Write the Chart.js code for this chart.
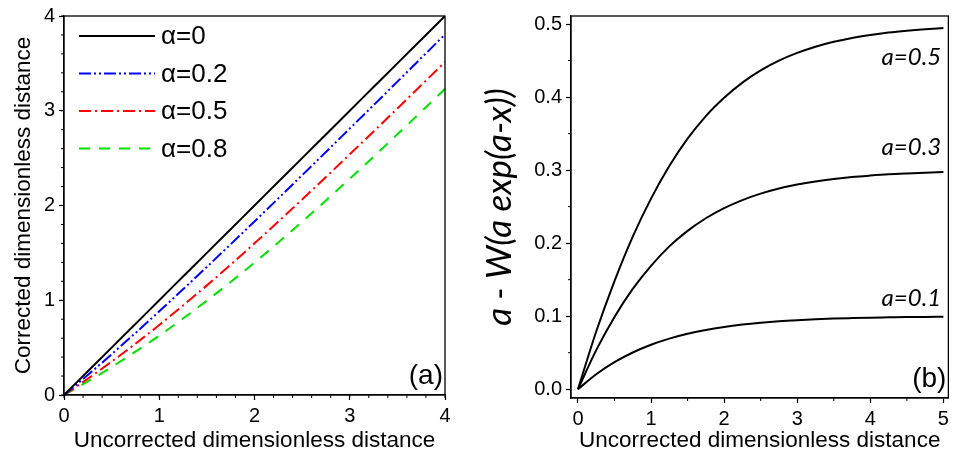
<!DOCTYPE html>
<html>
<head>
<meta charset="utf-8">
<script src="https://cdn.jsdelivr.net/npm/chart.js@4.4.1/dist/chart.umd.min.js"></script>
<style>
body { margin: 0; background: #fff; }
#ca { position: absolute; left: 0; top: 0; }
#cb { position: absolute; left: 475px; top: 0; }
</style>
</head>
<body>
<canvas id="ca" width="475" height="457"></canvas>
<canvas id="cb" width="478" height="457"></canvas>
<script>
// panel (a): corrected vs uncorrected distance
var xA = [0, 0.25, 0.5, 0.75, 1, 1.25, 1.5, 1.75, 2, 2.25, 2.5, 2.75, 3, 3.25, 3.5, 3.75, 4];
var a00 = [0, 0.25, 0.5, 0.75, 1, 1.25, 1.5, 1.75, 2, 2.25, 2.5, 2.75, 3, 3.25, 3.5, 3.75, 4];
var a02 = [0, 0.212, 0.430, 0.654, 0.883, 1.116, 1.352, 1.591, 1.832, 2.075, 2.320, 2.565, 2.812, 3.059, 3.307, 3.556, 3.805];
var a05 = [0, 0.171, 0.352, 0.541, 0.739, 0.945, 1.157, 1.376, 1.601, 1.830, 2.064, 2.300, 2.540, 2.781, 3.024, 3.269, 3.515];
var a08 = [0, 0.143, 0.295, 0.457, 0.627, 0.807, 0.996, 1.193, 1.398, 1.610, 1.829, 2.053, 2.282, 2.515, 2.751, 2.990, 3.232];
var labelsA = ['\u03b1=0', '\u03b1=0.2', '\u03b1=0.5', '\u03b1=0.8'];
var xTicksA = [0, 1, 2, 3, 4];
var yTicksA = [0, 1, 2, 3, 4];

// panel (b): a - W(a exp(a-x))
var xB = [0, 0.25, 0.5, 0.75, 1, 1.25, 1.5, 1.75, 2, 2.25, 2.5, 2.75, 3, 3.25, 3.5, 3.75, 4, 4.25, 4.5, 4.75, 5];
var b05 = [0, 0.079, 0.148, 0.209, 0.261, 0.3055, 0.343, 0.374, 0.399, 0.4198, 0.4365, 0.4499, 0.4605, 0.469, 0.4757, 0.481, 0.4851, 0.4884, 0.4909, 0.4929, 0.4945];
var b03 = [0, 0.0535, 0.099, 0.1374, 0.169, 0.1956, 0.2168, 0.2341, 0.248, 0.259, 0.2678, 0.2748, 0.2802, 0.2845, 0.2879, 0.2906, 0.2926, 0.2943, 0.2955, 0.2965, 0.2973];
var b01 = [0, 0.0205, 0.0371, 0.0503, 0.0609, 0.0693, 0.0759, 0.0812, 0.0853, 0.0885, 0.091, 0.093, 0.0945, 0.0957, 0.0967, 0.0974, 0.098, 0.0984, 0.0988, 0.099, 0.0993];
var labelsB = ['a=0.5', 'a=0.3', 'a=0.1'];
var xTicksB = [0, 1, 2, 3, 4, 5];
var yTicksB = [0, 0.1, 0.2, 0.3, 0.4, 0.5];

var FONT = '"Liberation Sans", Arial, sans-serif';

function pts(xs, ys) {
  return xs.map(function (x, i) { return { x: x, y: ys[i] }; });
}

function steps(from, to, step) {
  var out = [];
  for (var v = from; v <= to + 1e-9; v += step) out.push(+v.toFixed(4));
  return out;
}

function axis(min, max, ticks, fmt, title, titleFont, titlePad, size, horiz) {
  return {
    type: 'linear',
    min: min,
    max: max,
    afterBuildTicks: function (s) { s.ticks = ticks.map(function (v) { return { value: v }; }); },
    afterFit: function (s) { if (horiz) s.height = size; else s.width = size; },
    border: { display: true, color: '#000', width: 1.3 },
    grid: { drawOnChartArea: false, drawTicks: true, tickLength: 5, color: '#000', tickWidth: 1.2 },
    ticks: { color: '#000', padding: 4, font: { family: FONT, size: 20 }, callback: fmt, maxRotation: 0, autoSkip: false },
    title: { display: true, text: title, color: '#000', font: titleFont, padding: titlePad }
  };
}

// box around the plot, minor ticks and the free labels
var decor = {
  id: 'decor',
  afterDraw: function (chart, args, o) {
    var ctx = chart.ctx, a = chart.chartArea, sx = chart.scales.x, sy = chart.scales.y;
    ctx.save();
    ctx.strokeStyle = '#000';
    ctx.lineWidth = 1.3;
    ctx.strokeRect(a.left, a.top, a.right - a.left, a.bottom - a.top);
    ctx.lineWidth = 1;
    ctx.beginPath();
    o.xMinor.forEach(function (v) {
      var p = sx.getPixelForValue(v);
      ctx.moveTo(p, a.bottom); ctx.lineTo(p, a.bottom + 3);
    });
    o.yMinor.forEach(function (v) {
      var p = sy.getPixelForValue(v);
      ctx.moveTo(a.left, p); ctx.lineTo(a.left - 3, p);
    });
    ctx.stroke();

    ctx.fillStyle = '#000';
    ctx.textBaseline = 'middle';
    ctx.textAlign = 'right';
    ctx.font = '28px ' + FONT;
    ctx.fillText(o.tag, a.right - 2, a.bottom - 19);

    if (o.legend) {
      chart.data.datasets.forEach(function (ds, i) {
        var y = a.top + 20 + i * 37.5;
        ctx.save();
        ctx.strokeStyle = ds.borderColor;
        ctx.lineWidth = 2;
        ctx.setLineDash(ds.borderDash || []);
        ctx.beginPath();
        ctx.moveTo(a.left + 15, y); ctx.lineTo(a.left + 91, y);
        ctx.stroke();
        ctx.restore();
        ctx.textAlign = 'left';
        ctx.font = '26px ' + FONT;
        ctx.fillText(ds.label, a.left + 97, y + 1);
      });
    }
    if (o.notes) {
      ctx.textAlign = 'right';
      ctx.font = 'italic 24px Lato, "Open Sans", sans-serif';
      o.notes.forEach(function (n) {
        ctx.fillText(n.text, sx.getPixelForValue(4.97), sy.getPixelForValue(n.y));
      });
    }
    ctx.restore();
  }
};

Chart.defaults.animation = false;

new Chart(document.getElementById('ca'), {
  type: 'line',
  data: {
    datasets: [
      { label: labelsA[0], data: pts(xA, a00), borderColor: '#000000', borderWidth: 2 },
      { label: labelsA[1], data: pts(xA, a02), borderColor: '#0000ff', borderWidth: 2, borderDash: [12, 3, 2, 3, 2, 3] },
      { label: labelsA[2], data: pts(xA, a05), borderColor: '#ff0000', borderWidth: 2, borderDash: [12, 4, 2, 4] },
      { label: labelsA[3], data: pts(xA, a08), borderColor: '#00e000', borderWidth: 2, borderDash: [11, 9] }
    ]
  },
  options: {
    responsive: false,
    elements: { point: { radius: 0 }, line: { cubicInterpolationMode: 'monotone', fill: false } },
    layout: { padding: { left: 0, top: 15, right: 30, bottom: 0 } },
    plugins: {
      legend: { display: false },
      tooltip: { enabled: false },
      decor: { xMinor: steps(0, 4, 0.2), yMinor: steps(0, 4, 0.2), tag: '(a)', legend: true }
    },
    scales: {
      x: axis(0, 4, xTicksA, function (v) { return String(v); }, 'Uncorrected dimensionless distance',
        { family: FONT, size: 22.5 }, { top: 0, bottom: 3 }, 62, true),
      y: axis(0, 4, yTicksA, function (v) { return String(v); }, 'Corrected dimensionless distance',
        { family: FONT, size: 22.5 }, { top: 10, bottom: 0 }, 64, false)
    }
  },
  plugins: [decor]
});

new Chart(document.getElementById('cb'), {
  type: 'line',
  data: {
    datasets: [
      { label: labelsB[0], data: pts(xB, b05), borderColor: '#000', borderWidth: 2 },
      { label: labelsB[1], data: pts(xB, b03), borderColor: '#000', borderWidth: 2 },
      { label: labelsB[2], data: pts(xB, b01), borderColor: '#000', borderWidth: 2 }
    ]
  },
  options: {
    responsive: false,
    elements: { point: { radius: 0 }, line: { cubicInterpolationMode: 'monotone', fill: false } },
    layout: { padding: { left: 0, top: 15, right: 3, bottom: 0 } },
    plugins: {
      legend: { display: false },
      tooltip: { enabled: false },
      decor: {
        xMinor: steps(0.5, 4.5, 1), yMinor: steps(0.05, 0.45, 0.1), tag: '(b)',
        notes: [{ text: labelsB[0], y: 0.455 }, { text: labelsB[1], y: 0.331 }, { text: labelsB[2], y: 0.124 }]
      }
    },
    scales: {
      x: axis(-0.095, 5.068, xTicksB, function (v) { return String(v); }, 'Uncorrected dimensionless distance',
        { family: FONT, size: 22.5 }, { top: 0, bottom: 3 }, 59, true),
      y: axis(-0.012, 0.511, yTicksB, function (v) { return v.toFixed(1); }, 'a - W(a exp(a-x))',
        { family: 'Lato, "Open Sans", sans-serif', size: 35, style: 'italic' }, { top: 4, bottom: 0 }, 96, false)
    }
  },
  plugins: [decor]
});
</script>
</body>
</html>
